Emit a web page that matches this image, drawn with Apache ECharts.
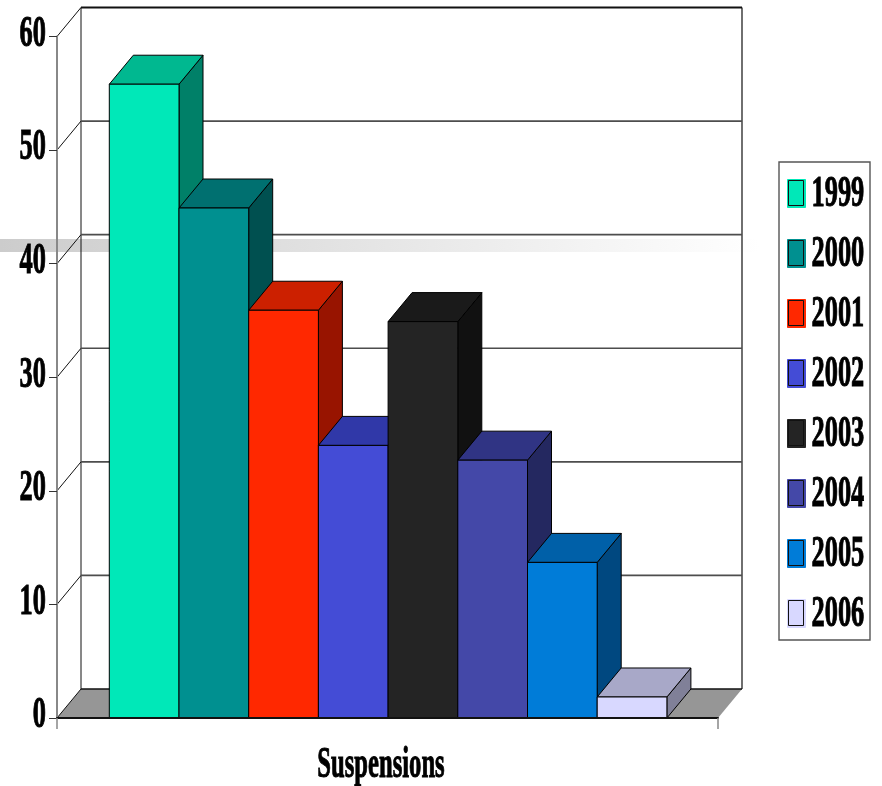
<!DOCTYPE html>
<html>
<head>
<meta charset="utf-8">
<style>html,body{margin:0;padding:0;background:#fff}#c{width:882px;height:786px}</style>
<script src="https://cdn.jsdelivr.net/npm/echarts@6/dist/echarts.min.js"></script>
</head>
<body>
<div id="c"></div>
<script>
const categories = ['Suspensions'];
const years = ['1999','2000','2001','2002','2003','2004','2005','2006'];
const values = [55.8, 44.9, 35.9, 24.0, 34.9, 22.7, 13.7, 1.85];
const yTicks = [0,10,20,30,40,50,60];
const frontColors = ['#00E8B8','#009090','#FF2800','#444CD6','#242424','#4448A8','#007CD8','#D8D8FF'];
const topColors   = ['#00B890','#007070','#CC2000','#3038A8','#1A1A1A','#303484','#0060A8','#A8A8C8'];
const sideColors  = ['#008068','#005050','#981400','#242880','#111111','#242860','#004880','#808098'];

const DX = 24, DY = -29;
const FONT = {fontFamily:'"Liberation Serif"', fontWeight:'bold', fontSize:44, fill:'#000', stroke:'#000', lineWidth:1};
const SQUEEZE = 0.6;

function renderWall(params, api) {
  const t = api.value(1);
  const p = api.coord([categories[0], t]);
  const cs = params.coordSys;
  const x0 = cs.x, x1 = cs.x + cs.width, y = p[1];
  const kids = [];
  const ln = (a,b,c,d,col,w) => ({type:'line', shape:{x1:a,y1:b,x2:c,y2:d}, style:{stroke:col, lineWidth:w}});
  if (t === 0) {
    kids.push({type:'polygon', shape:{points:[[x0,y],[x0+DX,y+DY],[x1+DX,y+DY],[x1,y]]}, style:{fill:'#969696', stroke:'none'}});
    const top = cs.y + DY;
    kids.push(ln(x0+DX, y+DY, x0+DX, top, '#111', 1));
    kids.push(ln(x1+DX, y+DY, x1+DX, top, '#333', 1.4));
  }
  kids.push(ln(x0, y, x0+DX, y+DY, '#111', 1));
  const col = t === 60 ? '#111' : (t === 0 ? '#111' : '#4d4d4d');
  kids.push(ln(x0+DX, y+DY, x1+DX, y+DY, col, t === 60 ? 2 : 1.6));
  kids.push({type:'text', x:46, y:y-2, scaleX:SQUEEZE,
    style:Object.assign({text:String(t), textAlign:'right', textVerticalAlign:'middle'}, FONT)});
  return {type:'group', children:kids};
}

function barRenderer(i) {
  return function (params, api) {
    const cs = params.coordSys;
    const W = 69.7, L = cs.x + 52.3 + i * W, R = L + W;
    const T = api.coord([categories[0], api.value(1)])[1];
    const B = api.coord([categories[0], 0])[1];
    const edge = {stroke:'#000', lineWidth:1, lineJoin:'round'};
    return {type:'group', children:[
      {type:'polygon', shape:{points:[[R,T],[R+DX,T+DY],[R+DX,B+DY],[R,B]]}, style:Object.assign({fill:sideColors[i]}, edge)},
      {type:'polygon', shape:{points:[[L,T],[L+DX,T+DY],[R+DX,T+DY],[R,T]]}, style:Object.assign({fill:topColors[i]}, edge)},
      {type:'rect', shape:{x:L,y:T,width:W,height:B-T}, style:Object.assign({fill:frontColors[i]}, edge)}
    ]};
  };
}

const LEG = {x:787, y:179, w:18, h:28, step:60, textX:811.5};
const graphics = [
  {type:'rect', z:-1, silent:true, shape:{x:0,y:239,width:760,height:13},
   style:{fill:{type:'linear',x:0,y:0,x2:1,y2:0,colorStops:[{offset:0,color:'#cccccc'},{offset:1,color:'#ffffff'}]}}},
  {type:'rect', z:-1, silent:true, shape:{x:779,y:162,width:91,height:478},
   style:{fill:'#fff', stroke:'#555', lineWidth:1.4}},
  {type:'text', z:50, silent:true, x:381, y:766, scaleX:0.56,
   style:Object.assign({text:categories[0], textAlign:'center', textVerticalAlign:'middle'}, FONT)}
];
years.forEach((yr,i) => {
  graphics.push({type:'rect', z:50, silent:true,
    shape:{x:LEG.x+1.5, y:LEG.y+i*LEG.step+1.5, width:LEG.w-3, height:LEG.h-3},
    style:{fill:'none', stroke:'#111', lineWidth:1}});
  graphics.push({type:'text', z:50, silent:true, x:LEG.textX, y:LEG.y+i*LEG.step+LEG.h/2+2, scaleX:SQUEEZE,
    style:Object.assign({text:yr, textAlign:'left', textVerticalAlign:'middle'}, FONT)});
});

const series = [{
  type:'custom', name:'frame', z:1, silent:true, clip:false, renderItem:renderWall,
  encode:{x:0,y:1}, data:yTicks.map(t => [categories[0], t])
}];
years.forEach((yr,i) => series.push({
  type:'custom', name:yr, z:2+i, clip:false, renderItem:barRenderer(i),
  itemStyle:{color:frontColors[i]}, encode:{x:0,y:1},
  data:[[categories[0], values[i]]]
}));

const chart = echarts.init(document.getElementById('c'), null, {renderer:'canvas'});
chart.setOption({
  animation:false,
  backgroundColor:'#fff',
  grid:{left:57, top:36.5, width:661, height:681.5, containLabel:false},
  tooltip:{show:false},
  legend:{
    show:true, orient:'vertical', left:LEG.x, top:LEG.y, padding:0,
    itemWidth:LEG.w, itemHeight:LEG.h, itemGap:LEG.step-LEG.h-1, icon:'rect',
    selectedMode:false, formatter:() => '',
    data:years.map((y,i) => ({name:y, itemStyle:{color:frontColors[i], borderColor:frontColors[i], borderWidth:1}}))
  },
  xAxis:{type:'category', data:categories, z:10,
    axisLine:{show:true, lineStyle:{color:'#111', width:2}},
    axisTick:{show:true, length:11, lineStyle:{color:'#888', width:1.5}},
    axisLabel:{show:false}, splitLine:{show:false}},
  yAxis:{type:'value', min:0, max:60, interval:10, z:10,
    axisLine:{show:true, lineStyle:{color:'#888', width:2}},
    axisTick:{show:true, length:8, lineStyle:{color:'#333', width:1}},
    axisLabel:{show:false}, splitLine:{show:false}},
  graphic:{elements:graphics},
  series
});
</script>
</body>
</html>
